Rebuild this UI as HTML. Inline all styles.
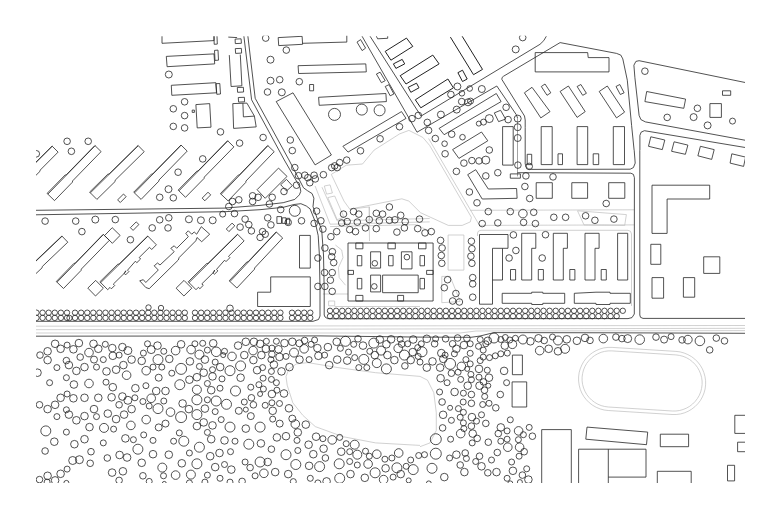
<!DOCTYPE html><html><head><meta charset="utf-8"><title>Site plan</title>
<style>html,body{margin:0;padding:0;background:#fff}svg{display:block}</style></head><body>
<svg width="780" height="518" viewBox="0 0 780 518">
<rect width="780" height="518" fill="#fff"/>
<defs><clipPath id="cp"><rect x="36.0" y="35.8" width="709.0" height="447.2"/></clipPath></defs>
<g clip-path="url(#cp)">
<g fill="none" stroke="#bdbdbd" stroke-width="0.70" stroke-linejoin="miter">
<path d="M331.3 174.4 L346.3 165.2 L362.5 164.0 L374.1 150.1 L399.6 133.9 L408.9 130.4 L422.8 137.4 L429.7 145.5 L471.4 217.3 L470.3 221.9 L462.2 225.4 L448.3 225.4 L420.5 212.7 L408.9 201.1 L401.9 198.8 L349.8 209.2 L344.0 201.1 Z M428.6 138.5 L479.5 225.4 M315.1 186.0 L330.1 224.2 L429.7 221.9 M322.0 187.2 L337.1 220.8 L429.7 218.5 M324.3 186.0 L330.1 184.9 L332.4 193.0 L326.6 194.1 Z M327.8 197.6 L334.7 196.0 L344.0 217.3 L337.1 219.6 Z M349.8 209.2 L369.5 206.9 L369.5 219.6 M330.1 226.6 L415.8 224.7 L429.7 231.2 M369.0 207.0 L369.5 241.0 M470.2 210.3 L634.1 209.8 M479.0 225.4 L634.1 224.9 M577.5 210.8 L626.4 214.6 L624.7 225.4 L584.0 224.9 Z M335.4 245.0 L341.7 250.0 L343.0 257.6 L338.4 267.6 L339.2 277.6 L345.5 285.2 M322.9 294.0 L348.0 294.0 M328.6 301.0 L334.7 301.0 L334.7 305.8 L328.6 305.8 Z M334.7 306.5 L420.0 306.5 M448.1 235.0 L463.9 235.0 L463.9 270.1 L448.1 270.1 Z M441.8 276.4 L450.1 276.4 L460.2 301.5 L441.8 302.7 Z M477.5 236.0 L477.5 233.0 L478.5 231.0 L481.0 230.3 L628.0 230.3 L630.5 231.3 L631.5 234.0 L631.5 306.0 M35.0 326.2 L746.0 325.5"/>
<path d="M35.0 329.7 L746.0 328.3 M35.0 333.0 L460.0 333.0 L476.0 331.0 L746.0 330.6 M420.0 376.4 L375.6 372.7 L337.9 367.6 L307.8 362.6 L296.5 363.9 L289.0 368.9 L286.0 376.4 L287.2 385.2 L292.8 402.8 L302.8 415.3 L315.3 426.6 L343.0 436.7 L375.6 442.9 L420.0 445.4 M420.0 376.4 L427.5 380.2 L433.8 392.7 L436.3 412.8 L436.3 430.4 L430.0 442.9 L420.0 446.7 M676.0 351.4 L680.1 351.9 L684.1 353.0 L687.9 354.6 L691.5 356.6 L694.8 359.1 L697.7 362.0 L700.3 365.3 L702.4 368.9 L703.9 372.7 L705.0 376.7 L705.6 380.8 L705.6 384.9 L705.1 389.0 L704.0 393.0 L702.4 396.9 L700.4 400.5 L697.9 403.7 L694.9 406.7 L691.7 409.2 L688.1 411.3 L684.3 412.9 L680.3 414.0 L676.2 414.5 L672.0 414.5 L608.2 410.5 L604.1 410.0 L600.1 408.9 L596.2 407.3 L592.7 405.3 L589.4 402.8 L586.4 399.8 L583.9 396.6 L581.8 393.0 L580.2 389.2 L579.2 385.2 L578.6 381.1 L578.6 377.0 L579.1 372.8 L580.2 368.9 L581.8 365.0 L583.8 361.4 L586.3 358.1 L589.2 355.2 L592.5 352.7 L596.1 350.6 L599.9 349.0 L603.9 347.9 L608.0 347.4 L612.1 347.4 Z M675.8 354.9 L679.4 355.4 L683.0 356.3 L686.4 357.7 L689.6 359.5 L692.5 361.8 L695.1 364.4 L697.4 367.3 L699.2 370.5 L700.6 373.9 L701.6 377.4 L702.1 381.0 L702.1 384.7 L701.6 388.4 L700.7 391.9 L699.3 395.3 L697.4 398.5 L695.2 401.4 L692.6 404.0 L689.7 406.3 L686.5 408.1 L683.1 409.5 L679.6 410.5 L675.9 411.0 L672.3 411.0 L608.4 407.0 L604.7 406.5 L601.2 405.6 L597.8 404.2 L594.6 402.3 L591.7 400.1 L589.1 397.5 L586.8 394.6 L585.0 391.4 L583.6 388.0 L582.6 384.5 L582.1 380.8 L582.1 377.2 L582.6 373.5 L583.5 370.0 L584.9 366.6 L586.7 363.4 L589.0 360.5 L591.6 357.9 L594.5 355.6 L597.7 353.8 L601.1 352.3 L604.6 351.4 L608.2 350.9 L611.9 350.9 Z"/>
</g>
<g fill="none" stroke="#8c8c8c" stroke-width="0.80" stroke-linejoin="miter">
<path d="M517.5 118.0 L517.5 176.4"/>
</g>
<g fill="none" stroke="#262626" stroke-width="0.80" stroke-linejoin="miter">
<path d="M162.0 36.3 L162.0 43.3 L214.0 40.6 L214.0 36.3 M214.0 36.3 L214.2 44.3 L217.3 44.1 L217.0 36.3 M166.3 56.4 L214.0 53.9 L214.7 63.9 L167.1 66.7 Z M214.5 50.4 L218.0 50.1 L218.5 60.2 L215.0 60.4 Z M171.3 85.3 L215.8 82.7 L216.5 92.8 L171.8 95.3 Z M216.0 83.7 L219.8 83.5 L220.5 94.0 L216.8 94.3 Z M192.2 110.1 L194.4 110.1 L194.4 112.4 L192.2 112.4 Z M195.9 104.6 L209.7 103.6 L211.0 127.2 L197.2 127.9 Z M228.3 37.1 L237.1 37.6 M235.1 39.1 L241.1 38.8 L241.4 43.3 L235.3 43.6 Z M235.3 48.6 L241.4 48.4 L241.6 53.1 L235.6 53.4 Z M229.3 55.1 L231.1 86.5 L241.9 85.8 L240.3 54.6 M237.3 87.5 L243.4 87.3 L243.6 92.0 L237.6 92.3 Z M238.3 97.5 L244.4 97.3 L244.6 101.8 L238.6 102.1 Z M232.8 103.6 L246.9 103.1 L254.4 116.1 L256.2 126.9 L233.6 128.4 Z M242.9 103.3 L243.4 116.9 L254.4 116.1 M278.2 37.6 L302.1 36.3 L302.6 44.3 L278.7 45.6 Z M302.6 43.3 L345.0 42.1 L346.8 42.1 L346.8 35.1 M309.6 84.5 L313.6 84.5 L313.6 90.8 L309.6 90.8 Z M276.2 101.6 L293.0 92.8 L331.4 155.0 L315.1 164.9 Z"/>
<path d="M357.0 42.1 L360.6 39.6 L365.6 48.1 L362.1 50.6 Z M298.1 65.7 L365.8 63.9 L366.3 71.9 L298.6 73.5 Z M318.6 97.3 L385.9 93.5 L386.4 101.6 L319.2 105.3 Z M376.4 74.0 L380.1 72.2 L385.2 80.7 L381.4 82.7 Z M385.2 86.5 L388.9 84.7 L393.9 94.0 L390.2 95.8 Z M362.1 36.3 L417.0 132.2 M370.1 36.3 L421.0 116.1 M421.0 116.1 L540.0 44.3 M417.0 132.2 L496.8 86.0 M496.8 86.0 L516.4 114.8 L517.5 118.0 M376.4 36.3 L377.6 38.8 L387.7 38.3 L387.7 36.3 M439.1 128.4 L496.3 93.5 L501.1 101.6 L444.1 134.7 Z M342.9 146.3 L401.5 111.6 L406.0 118.4 L348.0 152.1 Z M494.3 112.9 L500.6 110.3 L505.6 119.1 L498.6 121.6 Z M540.0 44.3 L543.8 40.6 L546.3 36.3 M525.2 127.5 L525.2 120.0 L524.5 116.0 L501.9 79.5 L502.0 77.6 L503.6 76.2 L560.1 42.6 M560.1 42.6 L616.5 53.4 L620.8 55.1 L622.8 58.9 L627.3 80.2 L631.6 125.4 L634.1 150.0 M535.2 52.6 L587.7 52.6 L588.2 57.6 L609.0 57.6 L609.0 71.9 L535.2 71.9 Z M541.3 86.5 L545.0 84.0 L550.8 92.8 L547.0 95.3 Z M577.1 86.5 L580.9 84.5 L586.4 93.3 L582.7 95.3 Z"/>
<path d="M616.0 86.5 L619.8 84.5 L624.1 92.8 L620.3 94.5 Z M524.4 92.8 L532.0 87.3 L550.0 111.6 L540.8 117.9 Z M560.1 91.5 L568.4 86.0 L585.2 111.6 L577.1 117.4 Z M599.2 91.5 L607.3 86.0 L624.6 112.1 L616.5 117.9 Z M801.0 94.0 L639.1 60.7 L635.9 61.4 L633.9 65.2 L634.9 77.7 L639.1 115.4 L640.9 119.6 L645.4 121.9 L801.0 150.5 M639.9 150.0 L639.9 135.4 L641.1 132.2 L644.4 130.7 L801.0 156.8 M646.7 91.5 L685.6 99.1 L683.8 108.3 L644.9 101.6 Z M709.9 103.6 L721.4 103.6 L721.4 117.4 L709.9 117.4 Z M722.5 90.8 L730.7 90.8 L730.7 95.3 L722.5 95.3 Z M21.4 175.6 L32.9 164.2 L34.1 164.0 L52.1 146.1 L58.1 152.1 L40.2 170.1 L40.0 171.3 L28.5 182.7 Z M22.1 176.3 L52.3 146.2 M47.1 193.4 L65.1 175.0 L66.3 174.8 L94.9 145.5 L101.1 151.6 L72.6 180.9 L72.4 182.2 L54.5 200.6 Z M47.9 194.1 L95.1 145.7 M89.6 192.1 L107.8 174.2 L109.1 174.0 L138.1 145.5 L144.2 151.7 L115.2 180.2 L115.1 181.5 L96.9 199.4 Z M90.4 192.8 L138.3 145.6 M133.7 192.2 L151.5 174.0 L152.7 173.9 L181.0 145.0 L187.2 151.1 L159.0 180.0 L158.8 181.2 L141.1 199.4 Z M134.5 192.9 L181.2 145.2 M178.2 190.1 L196.8 171.2 L198.0 171.0 L227.6 140.7 L233.9 146.9 L204.3 177.1 L204.1 178.4 L185.5 197.3 Z M178.9 190.9 L227.8 140.9 M35.5 210.3 L225.0 208.1"/>
<path d="M35.5 214.8 L225.0 211.7 M117.6 199.9 L123.5 194.0 L126.1 196.7 L120.3 202.5 Z M202.2 198.1 L208.0 192.2 L210.7 194.9 L204.8 200.8 Z M130.4 227.7 L136.2 221.9 L138.9 224.5 L133.1 230.4 Z M19.0 275.8 L35.1 260.5 L36.4 260.3 L61.9 236.0 L67.8 242.2 L42.3 266.5 L42.1 267.8 L25.9 283.1 Z M19.7 276.6 L62.1 236.2 M56.3 281.5 L73.9 263.4 L75.2 263.2 L103.2 234.3 L109.4 240.3 L81.3 269.1 L81.1 270.4 L63.5 288.5 Z M57.0 282.2 L103.4 234.5 M104.5 235.6 L112.2 227.7 L120.1 235.4 L112.4 243.3 Z M99.9 281.8 L117.8 264.2 L119.1 264.1 L147.7 236.0 L154.3 242.7 L154.3 242.7 L156.4 244.8 L151.7 249.5 L149.5 247.3 L139.2 257.5 L140.6 259.0 L136.8 262.7 L135.4 261.2 L127.5 270.2 L128.9 271.6 L125.6 274.9 L124.2 273.4 L125.7 270.8 L125.6 272.0 L113.3 284.1 L114.7 285.5 L111.4 288.8 L110.0 287.4 L107.7 289.7 Z M100.7 282.6 L147.9 236.2 M95.7 280.4 L87.8 288.1 L95.5 296.0 L103.4 288.2 Z M139.7 280.8 L143.3 279.7 L145.8 282.5 L158.3 270.0 L154.2 265.8 L157.5 263.0 L160.0 265.0 L174.2 251.7 L170.8 248.3 L174.2 245.8 L176.7 248.3 L188.3 236.7 L185.8 233.3 L188.3 230.8 L191.7 234.2 L194.2 232.0 L196.7 234.2 L201.3 226.7 L209.7 234.2 L201.7 241.7 L197.0 237.5 L195.8 240.8 L179.2 257.5 L178.3 260.0 L149.2 288.7 L145.8 287.5 Z M188.2 281.8 L206.7 263.5 L208.0 263.4 L237.5 234.2 L244.1 240.9 L228.5 256.3 L229.9 257.7 L226.0 261.6 L224.6 260.2 L216.5 269.4 L217.9 270.9 L214.5 274.2 L213.0 272.8 L214.6 270.1 L214.5 271.4 L201.8 283.9 L203.3 285.3 L199.9 288.7 L198.4 287.3 L196.0 289.7 Z M189.0 282.6 L237.7 234.4 M184.0 280.4 L176.1 288.2 L183.9 296.0 L191.8 288.2 Z M243.9 36.3 L251.6 99.8 L284.3 160.0 L300.0 187.2 L300.8 191.3 L299.4 194.8 L294.8 199.4 L283.2 202.7 L260.0 205.4 L225.0 208.0 M247.9 36.3 L255.2 98.3 L289.0 160.0 L303.5 187.8 L307.5 190.7 L312.1 193.6 L313.9 198.2 L313.0 206.6 L317.1 218.2 L321.7 229.8 L323.5 255.0 L324.2 290.0 L324.2 315.0 L325.0 317.0 L327.5 318.6 L332.0 318.8 L628.0 318.6 L632.0 317.6 L634.3 314.0 M225.0 211.7 L260.0 209.7 L283.2 207.3 L294.0 204.5 L300.9 203.7 L306.3 206.0 L310.1 208.9 L314.8 220.5 L318.2 235.6 L319.4 255.0 L320.0 290.0 L320.0 316.0 L318.5 319.5 L313.0 321.3 L35.0 321.3 M220.4 193.6 L238.2 175.1 L239.4 174.9 L267.7 145.5 L274.2 151.7 L245.9 181.1 L245.8 182.4 L228.1 200.9 Z"/>
<path d="M221.2 194.3 L267.9 145.7 M257.1 189.7 L278.5 168.1 L287.0 176.4 L265.2 198.3 Z M280.7 184.7 L286.5 179.4 L292.3 185.7 L286.5 191.0 Z M276.9 216.6 L281.5 216.6 L281.5 223.4 L276.9 223.4 Z M282.2 217.8 L286.0 217.8 L286.0 223.4 L282.2 223.4 Z M286.5 218.3 L289.7 218.3 L289.7 224.1 L286.5 224.1 Z M226.3 229.0 L232.1 223.1 L234.8 225.8 L228.9 231.6 Z M452.6 149.6 L481.5 132.0 L487.8 140.8 L458.9 158.4 Z M467.7 174.7 L475.7 169.7 L488.3 189.0 L516.6 188.5 L517.1 198.3 L482.2 199.0 Z M502.6 126.6 L513.2 126.6 L513.2 165.1 L502.6 165.1 Z M541.2 126.6 L552.2 126.6 L552.2 164.6 L541.2 164.6 Z M577.1 126.6 L587.7 126.6 L587.7 164.6 L577.1 164.6 Z M613.3 126.6 L624.5 126.6 L624.5 164.6 L613.3 164.6 Z M527.2 154.3 L531.7 154.3 L531.7 164.6 L527.2 164.6 Z M558.0 153.8 L562.5 153.8 L562.5 164.6 L558.0 164.6 Z M593.2 153.8 L598.7 153.8 L598.7 164.6 L593.2 164.6 Z M517.4 172.7 L630.9 173.2 L633.4 174.4 L634.4 177.7 L634.3 314.0 M525.2 127.5 L525.2 163.9 L526.2 167.1 L528.4 168.9 L531.7 169.4 L630.2 169.2 L633.4 167.6 L635.2 163.1 L634.2 150.1 M510.3 173.9 L520.4 173.9 L520.4 178.2 L510.3 178.2 Z M536.2 182.7 L552.3 182.7 L552.3 198.3 L536.2 198.3 Z"/>
<path d="M571.8 182.7 L587.6 182.7 L587.6 198.3 L571.8 198.3 Z M608.7 182.7 L624.8 182.7 L624.8 198.3 L608.7 198.3 Z M639.8 150.1 L639.8 315.0 L640.5 317.3 L643.0 318.4 L746.0 318.4 M650.8 136.8 L664.8 140.0 L662.3 149.6 L648.5 146.3 Z M674.1 141.8 L687.9 145.1 L685.4 154.3 L671.6 151.3 Z M700.4 146.3 L714.2 149.6 L711.7 159.4 L697.9 155.8 Z M731.8 153.8 L745.6 157.1 L743.6 166.4 L730.1 163.1 Z M652.0 185.2 L709.7 185.2 L709.7 199.0 L667.1 199.0 L667.1 233.4 L652.0 233.4 Z M299.5 235.4 L310.3 235.4 L310.3 268.1 L299.5 268.1 Z M270.7 276.9 L310.3 276.9 L310.3 306.5 L257.6 306.5 L257.6 292.2 L270.7 292.2 Z M229.2 280.8 L246.8 262.0 L248.1 261.8 L276.2 231.9 L282.7 238.0 L254.6 268.0 L254.5 269.2 L236.9 288.0 Z M230.0 281.5 L276.4 232.1 M348.0 243.0 L433.1 243.0 L433.1 301.0 L348.0 301.0 Z M355.8 243.0 L362.9 243.0 L362.9 248.8 L355.8 248.8 Z M387.9 243.0 L395.3 243.0 L395.3 248.8 L387.9 248.8 Z M418.5 243.0 L426.0 243.0 L426.0 248.8 L418.5 248.8 Z M355.8 295.4 L362.9 295.4 L362.9 301.0 L355.8 301.0 Z M397.6 295.4 L403.6 295.4 L403.6 301.0 L397.6 301.0 Z M348.0 270.4 L353.5 270.4 L353.5 274.4 L348.0 274.4 Z M426.6 270.4 L433.1 270.4 L433.1 274.4 L426.6 274.4 Z"/>
<path d="M357.3 255.6 L361.8 255.6 L361.8 265.8 L357.3 265.8 Z M370.6 251.8 L380.6 251.8 L380.6 268.1 L370.6 268.1 Z M388.6 255.6 L393.1 255.6 L393.1 265.8 L388.6 265.8 Z M401.4 251.8 L412.0 251.8 L412.0 268.9 L401.4 268.9 Z M357.3 278.4 L361.8 278.4 L361.8 288.9 L357.3 288.9 Z M370.6 275.1 L380.6 275.1 L380.6 291.9 L370.6 291.9 Z M382.6 275.1 L418.2 275.1 L418.2 292.7 L382.6 292.7 Z M420.0 255.6 L424.5 255.6 L424.5 265.8 L420.0 265.8 Z M420.0 278.4 L424.5 278.4 L424.5 288.9 L420.0 288.9 Z M479.5 234.5 L508.0 234.5 L508.0 248.3 L502.5 248.3 L502.5 280.0 L492.5 280.0 L492.5 304.2 L479.5 304.2 Z M492.5 280.0 L492.5 248.3 L502.5 248.3 M521.7 233.3 L535.8 233.3 L535.8 248.3 L531.7 248.3 L531.7 280.0 L521.7 280.0 Z M553.3 233.3 L567.4 233.3 L567.4 248.3 L563.3 248.3 L563.3 280.0 L553.3 280.0 Z M585.0 233.3 L599.1 233.3 L599.1 248.3 L595.0 248.3 L595.0 280.0 L585.0 280.0 Z M617.6 233.3 L627.7 233.3 L627.7 280.0 L617.6 280.0 Z M510.5 269.5 L515.6 269.5 L515.6 280.0 L510.5 280.0 Z M538.3 269.5 L543.4 269.5 L543.4 280.0 L538.3 280.0 Z M569.8 269.5 L574.9 269.5 L574.9 280.0 L569.8 280.0 Z M601.2 269.5 L606.3 269.5 L606.3 280.0 L601.2 280.0 Z M502.2 293.3 L531.7 293.3 L531.7 292.2 L542.8 292.2 L542.8 293.3 L564.7 293.3 L564.7 303.3 L542.8 303.3 L542.8 304.5 L531.7 304.5 L531.7 303.3 L502.2 303.3 Z"/>
<path d="M574.3 293.3 L596.0 292.2 L610.0 292.2 L610.0 293.3 L630.3 293.3 L630.3 303.3 L610.0 303.3 L610.0 304.5 L596.0 304.5 L596.0 303.3 L574.3 303.3 Z M650.8 244.3 L660.8 244.3 L660.8 264.3 L650.8 264.3 Z M703.7 256.8 L719.8 256.8 L719.8 273.4 L703.7 273.4 Z M652.0 277.6 L663.6 277.6 L663.6 298.2 L652.0 298.2 Z M683.4 277.6 L694.7 277.6 L694.7 297.2 L683.4 297.2 Z M35.0 336.2 L320.0 335.9 L420.0 337.1 L471.0 337.3 L480.0 336.0 L494.0 332.6 L615.0 332.8 L746.0 333.3 M512.4 355.1 L522.4 355.1 L522.4 374.7 L512.4 374.7 Z M512.1 381.9 L526.7 381.9 L526.7 407.0 L512.1 407.0 Z M541.7 429.6 L571.3 429.6 L571.3 505.7 L541.7 505.7 Z M587.0 427.1 L647.7 432.1 L646.5 444.7 L585.8 439.2 Z M660.3 434.2 L688.6 434.2 L688.6 446.7 L660.3 446.7 Z M578.6 505.7 L578.6 449.2 L646.0 449.2 L646.0 477.1 L608.3 477.1 M608.3 449.2 L608.3 505.7 M760.7 415.3 L734.8 415.3 L734.8 433.4 L760.7 433.4 M760.7 442.2 L737.6 442.2 L737.6 451.7 L760.7 451.7 M657.3 563.7 L657.3 471.3 L691.2 471.3 L691.2 563.7 M727.5 465.3 L734.6 465.3 L734.6 480.9 L727.5 480.9 Z"/>
<circle cx="168.8" cy="74.5" r="3.5"/>
<circle cx="184.6" cy="101.8" r="3.3"/>
<circle cx="173.3" cy="108.8" r="3.3"/>
<circle cx="184.6" cy="115.6" r="3.3"/>
<circle cx="173.3" cy="126.4" r="3.3"/>
<circle cx="184.6" cy="127.9" r="3.3"/>
<circle cx="220.5" cy="131.9" r="3.3"/>
<circle cx="265.7" cy="38.1" r="3.3"/>
<circle cx="286.3" cy="50.1" r="3.3"/>
<circle cx="270.5" cy="59.7" r="3.5"/>
<circle cx="270.5" cy="80.7" r="3.5"/>
<circle cx="279.7" cy="79.7" r="3.3"/>
<circle cx="267.5" cy="92.0" r="3.3"/>
<circle cx="281.8" cy="92.3" r="3.5"/>
<circle cx="299.3" cy="81.7" r="3.3"/>
<circle cx="334.5" cy="114.4" r="6.0"/>
<circle cx="361.8" cy="109.6" r="5.5"/>
<circle cx="379.6" cy="110.3" r="5.5"/>
<circle cx="457.4" cy="86.5" r="3.5"/>
<circle cx="450.9" cy="94.5" r="3.3"/>
<circle cx="461.9" cy="93.3" r="2.8"/>
<circle cx="469.7" cy="88.5" r="2.8"/>
<circle cx="481.8" cy="89.0" r="3.5"/>
<circle cx="461.7" cy="101.6" r="3.3"/>
<circle cx="468.0" cy="102.3" r="3.5"/>
<circle cx="470.5" cy="101.1" r="3.0"/>
<circle cx="456.7" cy="109.6" r="3.5"/>
<circle cx="440.9" cy="114.6" r="3.5"/>
<circle cx="418.3" cy="115.4" r="3.3"/>
<circle cx="412.0" cy="118.6" r="3.3"/>
<circle cx="427.3" cy="122.4" r="3.3"/>
<circle cx="428.6" cy="130.4" r="3.3"/>
<circle cx="435.3" cy="138.5" r="3.3"/>
<circle cx="444.6" cy="143.7" r="2.8"/>
<circle cx="451.7" cy="134.2" r="3.3"/>
<circle cx="462.5" cy="137.2" r="2.8"/>
<circle cx="399.5" cy="126.7" r="3.3"/>
<circle cx="515.7" cy="49.4" r="3.5"/>
<circle cx="522.7" cy="37.6" r="3.3"/>
<circle cx="506.1" cy="107.3" r="3.3"/>
<circle cx="489.3" cy="118.6" r="4.0"/>
<circle cx="483.5" cy="122.1" r="3.0"/>
<circle cx="478.8" cy="123.6" r="2.5"/>
<circle cx="508.1" cy="119.6" r="3.3"/>
<circle cx="517.7" cy="118.6" r="3.5"/>
<circle cx="517.7" cy="127.2" r="3.5"/>
<circle cx="517.7" cy="138.0" r="3.5"/>
<circle cx="489.3" cy="150.0" r="3.3"/>
<circle cx="644.9" cy="71.2" r="3.3"/>
<circle cx="697.4" cy="108.3" r="3.3"/>
<circle cx="667.2" cy="117.4" r="3.3"/>
<circle cx="693.6" cy="117.1" r="3.5"/>
<circle cx="707.6" cy="125.4" r="3.5"/>
<circle cx="732.5" cy="121.1" r="3.0"/>
<circle cx="67.1" cy="141.3" r="3.3"/>
<circle cx="88.2" cy="141.3" r="3.3"/>
<circle cx="71.4" cy="151.3" r="3.3"/>
<circle cx="36.3" cy="153.8" r="3.3"/>
<circle cx="202.7" cy="158.9" r="3.3"/>
<circle cx="178.1" cy="172.2" r="3.3"/>
<circle cx="168.5" cy="189.2" r="3.5"/>
<circle cx="159.7" cy="197.3" r="3.3"/>
<circle cx="173.3" cy="197.8" r="3.3"/>
<circle cx="45.1" cy="221.1" r="3.3"/>
<circle cx="75.7" cy="221.1" r="3.3"/>
<circle cx="95.3" cy="219.6" r="3.5"/>
<circle cx="115.3" cy="219.6" r="3.3"/>
<circle cx="81.9" cy="231.6" r="3.3"/>
<circle cx="130.4" cy="239.7" r="3.3"/>
<circle cx="152.2" cy="227.9" r="3.3"/>
<circle cx="159.7" cy="219.8" r="3.3"/>
<circle cx="168.8" cy="217.8" r="3.3"/>
<circle cx="168.0" cy="227.9" r="3.3"/>
<circle cx="188.9" cy="219.3" r="3.5"/>
<circle cx="200.9" cy="220.3" r="3.5"/>
<circle cx="212.7" cy="220.3" r="3.5"/>
<circle cx="222.7" cy="214.1" r="3.0"/>
<circle cx="239.6" cy="143.1" r="3.3"/>
<circle cx="263.1" cy="137.5" r="3.3"/>
<circle cx="290.3" cy="140.0" r="3.3"/>
<circle cx="292.3" cy="150.6" r="3.3"/>
<circle cx="294.8" cy="167.6" r="3.3"/>
<circle cx="298.5" cy="175.7" r="3.3"/>
<circle cx="304.8" cy="175.2" r="3.3"/>
<circle cx="307.8" cy="177.7" r="3.3"/>
<circle cx="309.8" cy="182.7" r="3.3"/>
<circle cx="314.1" cy="175.2" r="3.3"/>
<circle cx="315.3" cy="178.9" r="3.3"/>
<circle cx="323.4" cy="174.7" r="3.3"/>
<circle cx="296.5" cy="185.2" r="3.3"/>
<circle cx="284.0" cy="191.5" r="3.3"/>
<circle cx="272.2" cy="197.3" r="3.3"/>
<circle cx="269.4" cy="204.0" r="3.3"/>
<circle cx="252.6" cy="195.8" r="3.3"/>
<circle cx="258.1" cy="197.3" r="3.3"/>
<circle cx="252.6" cy="201.5" r="3.3"/>
<circle cx="238.8" cy="199.8" r="3.3"/>
<circle cx="232.5" cy="201.5" r="3.3"/>
<circle cx="228.8" cy="206.5" r="3.3"/>
<circle cx="280.7" cy="209.6" r="3.3"/>
<circle cx="294.8" cy="210.8" r="5.5"/>
<circle cx="301.5" cy="220.8" r="3.3"/>
<circle cx="267.7" cy="217.8" r="3.3"/>
<circle cx="270.9" cy="224.9" r="3.3"/>
<circle cx="288.2" cy="222.4" r="3.3"/>
<circle cx="245.1" cy="219.1" r="3.3"/>
<circle cx="248.8" cy="224.6" r="3.3"/>
<circle cx="240.1" cy="227.1" r="3.3"/>
<circle cx="251.4" cy="230.9" r="3.3"/>
<circle cx="262.6" cy="231.6" r="3.3"/>
<circle cx="265.2" cy="234.2" r="3.3"/>
<circle cx="260.1" cy="237.4" r="3.3"/>
<circle cx="234.5" cy="213.6" r="3.3"/>
<circle cx="316.6" cy="211.1" r="3.3"/>
<circle cx="314.1" cy="223.4" r="3.3"/>
<circle cx="320.9" cy="220.8" r="3.3"/>
<circle cx="322.9" cy="229.1" r="3.3"/>
<circle cx="324.9" cy="248.0" r="3.3"/>
<circle cx="330.9" cy="236.7" r="3.3"/>
<circle cx="332.4" cy="251.7" r="3.3"/>
<circle cx="331.7" cy="256.7" r="3.3"/>
<circle cx="317.9" cy="258.0" r="3.3"/>
<circle cx="336.7" cy="231.6" r="3.3"/>
<circle cx="343.5" cy="214.1" r="3.3"/>
<circle cx="341.7" cy="222.9" r="3.3"/>
<circle cx="347.2" cy="221.6" r="3.3"/>
<circle cx="353.5" cy="211.6" r="3.3"/>
<circle cx="358.8" cy="214.1" r="3.3"/>
<circle cx="357.3" cy="222.1" r="3.3"/>
<circle cx="349.7" cy="229.6" r="3.3"/>
<circle cx="355.5" cy="231.6" r="3.3"/>
<circle cx="365.5" cy="227.9" r="3.3"/>
<circle cx="369.3" cy="219.6" r="3.3"/>
<circle cx="376.3" cy="213.3" r="3.3"/>
<circle cx="382.6" cy="214.1" r="3.3"/>
<circle cx="389.4" cy="207.0" r="3.3"/>
<circle cx="379.3" cy="220.8" r="3.3"/>
<circle cx="376.3" cy="228.6" r="3.3"/>
<circle cx="389.4" cy="220.3" r="3.3"/>
<circle cx="394.9" cy="219.8" r="3.3"/>
<circle cx="400.7" cy="215.3" r="3.3"/>
<circle cx="405.2" cy="221.6" r="3.3"/>
<circle cx="404.4" cy="227.9" r="3.3"/>
<circle cx="396.9" cy="232.1" r="3.3"/>
<circle cx="417.7" cy="228.6" r="3.3"/>
<circle cx="419.5" cy="219.1" r="3.3"/>
<circle cx="331.7" cy="167.6" r="3.3"/>
<circle cx="334.7" cy="165.9" r="3.3"/>
<circle cx="337.2" cy="167.6" r="3.3"/>
<circle cx="339.7" cy="162.6" r="3.3"/>
<circle cx="346.7" cy="160.1" r="3.3"/>
<circle cx="360.5" cy="150.8" r="3.3"/>
<circle cx="380.1" cy="138.8" r="3.3"/>
<circle cx="445.1" cy="153.8" r="3.3"/>
<circle cx="456.4" cy="171.4" r="3.3"/>
<circle cx="463.9" cy="163.1" r="3.3"/>
<circle cx="471.9" cy="160.6" r="3.3"/>
<circle cx="479.0" cy="160.9" r="3.3"/>
<circle cx="485.8" cy="160.1" r="4.0"/>
<circle cx="485.8" cy="175.9" r="3.3"/>
<circle cx="497.8" cy="172.7" r="3.3"/>
<circle cx="469.4" cy="192.0" r="3.3"/>
<circle cx="477.0" cy="202.8" r="3.3"/>
<circle cx="488.3" cy="211.6" r="3.3"/>
<circle cx="482.2" cy="223.6" r="3.3"/>
<circle cx="497.8" cy="222.9" r="3.3"/>
<circle cx="510.3" cy="211.6" r="3.3"/>
<circle cx="522.9" cy="213.6" r="4.3"/>
<circle cx="523.6" cy="222.4" r="3.3"/>
<circle cx="533.7" cy="212.3" r="3.3"/>
<circle cx="535.4" cy="223.6" r="3.3"/>
<circle cx="524.9" cy="186.5" r="3.3"/>
<circle cx="529.7" cy="198.5" r="3.3"/>
<circle cx="525.9" cy="175.9" r="3.3"/>
<circle cx="553.0" cy="176.9" r="3.3"/>
<circle cx="517.9" cy="165.1" r="3.3"/>
<circle cx="529.2" cy="166.4" r="3.3"/>
<circle cx="553.8" cy="217.3" r="3.3"/>
<circle cx="565.6" cy="217.3" r="3.3"/>
<circle cx="585.6" cy="215.8" r="3.3"/>
<circle cx="594.9" cy="220.3" r="3.3"/>
<circle cx="606.2" cy="203.5" r="3.3"/>
<circle cx="513.4" cy="234.9" r="3.3"/>
<circle cx="545.5" cy="234.7" r="3.3"/>
<circle cx="515.9" cy="250.5" r="3.3"/>
<circle cx="509.1" cy="258.0" r="3.3"/>
<circle cx="542.2" cy="258.0" r="3.3"/>
<circle cx="425.0" cy="232.9" r="3.3"/>
<circle cx="431.3" cy="231.6" r="3.3"/>
<circle cx="440.6" cy="240.4" r="3.3"/>
<circle cx="442.1" cy="248.0" r="3.3"/>
<circle cx="441.3" cy="255.5" r="3.3"/>
<circle cx="471.4" cy="241.2" r="3.3"/>
<circle cx="471.9" cy="248.7" r="3.3"/>
<circle cx="470.9" cy="256.2" r="3.3"/>
<circle cx="613.9" cy="219.1" r="3.3"/>
<circle cx="374.8" cy="263.3" r="2.8"/>
<circle cx="406.9" cy="257.1" r="2.8"/>
<circle cx="374.3" cy="286.4" r="2.8"/>
<circle cx="333.7" cy="262.6" r="3.3"/>
<circle cx="324.6" cy="272.6" r="3.3"/>
<circle cx="332.2" cy="272.6" r="3.3"/>
<circle cx="330.4" cy="280.2" r="3.3"/>
<circle cx="317.9" cy="286.4" r="3.3"/>
<circle cx="324.9" cy="286.4" r="3.3"/>
<circle cx="332.2" cy="291.4" r="3.3"/>
<circle cx="230.0" cy="308.3" r="3.3"/>
<circle cx="441.8" cy="263.3" r="3.3"/>
<circle cx="471.9" cy="263.3" r="3.3"/>
<circle cx="472.7" cy="277.6" r="3.3"/>
<circle cx="472.7" cy="283.9" r="3.3"/>
<circle cx="472.7" cy="297.2" r="3.3"/>
<circle cx="447.6" cy="279.7" r="3.3"/>
<circle cx="444.3" cy="287.7" r="3.3"/>
<circle cx="455.9" cy="293.5" r="3.3"/>
<circle cx="452.6" cy="301.0" r="3.3"/>
<circle cx="459.4" cy="302.0" r="3.3"/>
<circle cx="590.0" cy="340.4" r="3.3"/>
<circle cx="603.3" cy="338.6" r="4.3"/>
<circle cx="615.9" cy="337.1" r="3.3"/>
<circle cx="621.9" cy="338.6" r="3.3"/>
<circle cx="627.7" cy="338.6" r="4.0"/>
<circle cx="639.7" cy="339.6" r="4.8"/>
<circle cx="656.0" cy="337.1" r="3.3"/>
<circle cx="664.1" cy="339.6" r="3.5"/>
<circle cx="671.1" cy="336.6" r="3.0"/>
<circle cx="682.1" cy="339.9" r="3.3"/>
<circle cx="687.9" cy="339.6" r="4.3"/>
<circle cx="699.9" cy="340.9" r="4.8"/>
<circle cx="716.3" cy="338.1" r="3.3"/>
<circle cx="724.5" cy="340.9" r="3.3"/>
<circle cx="709.7" cy="349.9" r="3.3"/>
<circle cx="585.0" cy="337.9" r="3.8"/>
<circle cx="36.5" cy="312.7" r="2.7"/>
<circle cx="36.5" cy="317.9" r="2.7"/>
<circle cx="42.6" cy="312.7" r="2.7"/>
<circle cx="42.6" cy="317.9" r="2.7"/>
<circle cx="48.7" cy="312.7" r="2.7"/>
<circle cx="48.7" cy="317.9" r="2.7"/>
<circle cx="54.8" cy="312.7" r="2.7"/>
<circle cx="54.8" cy="317.9" r="2.7"/>
<circle cx="60.9" cy="312.7" r="2.7"/>
<circle cx="60.9" cy="317.9" r="2.7"/>
<circle cx="67.0" cy="312.7" r="2.7"/>
<circle cx="67.0" cy="317.9" r="2.7"/>
<circle cx="75.0" cy="312.7" r="2.7"/>
<circle cx="75.0" cy="317.9" r="2.7"/>
<circle cx="81.1" cy="312.7" r="2.7"/>
<circle cx="81.1" cy="317.9" r="2.7"/>
<circle cx="87.2" cy="312.7" r="2.7"/>
<circle cx="87.2" cy="317.9" r="2.7"/>
<circle cx="93.3" cy="312.7" r="2.7"/>
<circle cx="93.3" cy="317.9" r="2.7"/>
<circle cx="99.4" cy="312.7" r="2.7"/>
<circle cx="99.4" cy="317.9" r="2.7"/>
<circle cx="105.5" cy="312.7" r="2.7"/>
<circle cx="105.5" cy="317.9" r="2.7"/>
<circle cx="111.6" cy="312.7" r="2.7"/>
<circle cx="111.6" cy="317.9" r="2.7"/>
<circle cx="117.7" cy="312.7" r="2.7"/>
<circle cx="117.7" cy="317.9" r="2.7"/>
<circle cx="123.8" cy="312.7" r="2.7"/>
<circle cx="123.8" cy="317.9" r="2.7"/>
<circle cx="129.9" cy="312.7" r="2.7"/>
<circle cx="129.9" cy="317.9" r="2.7"/>
<circle cx="136.0" cy="312.7" r="2.7"/>
<circle cx="136.0" cy="317.9" r="2.7"/>
<circle cx="142.1" cy="312.7" r="2.7"/>
<circle cx="142.1" cy="317.9" r="2.7"/>
<circle cx="148.2" cy="312.7" r="2.7"/>
<circle cx="148.2" cy="317.9" r="2.7"/>
<circle cx="154.3" cy="312.7" r="2.7"/>
<circle cx="154.3" cy="317.9" r="2.7"/>
<circle cx="160.4" cy="312.7" r="2.7"/>
<circle cx="160.4" cy="317.9" r="2.7"/>
<circle cx="166.5" cy="312.7" r="2.7"/>
<circle cx="166.5" cy="317.9" r="2.7"/>
<circle cx="172.6" cy="312.7" r="2.7"/>
<circle cx="172.6" cy="317.9" r="2.7"/>
<circle cx="178.7" cy="312.7" r="2.7"/>
<circle cx="178.7" cy="317.9" r="2.7"/>
<circle cx="184.8" cy="312.7" r="2.7"/>
<circle cx="184.8" cy="317.9" r="2.7"/>
<circle cx="195.0" cy="312.7" r="2.7"/>
<circle cx="195.0" cy="317.9" r="2.7"/>
<circle cx="201.1" cy="312.7" r="2.7"/>
<circle cx="201.1" cy="317.9" r="2.7"/>
<circle cx="207.2" cy="312.7" r="2.7"/>
<circle cx="207.2" cy="317.9" r="2.7"/>
<circle cx="213.3" cy="312.7" r="2.7"/>
<circle cx="213.3" cy="317.9" r="2.7"/>
<circle cx="219.4" cy="312.7" r="2.7"/>
<circle cx="219.4" cy="317.9" r="2.7"/>
<circle cx="225.5" cy="312.7" r="2.7"/>
<circle cx="225.5" cy="317.9" r="2.7"/>
<circle cx="231.6" cy="312.7" r="2.7"/>
<circle cx="231.6" cy="317.9" r="2.7"/>
<circle cx="237.7" cy="312.7" r="2.7"/>
<circle cx="237.7" cy="317.9" r="2.7"/>
<circle cx="243.8" cy="312.7" r="2.7"/>
<circle cx="243.8" cy="317.9" r="2.7"/>
<circle cx="249.9" cy="312.7" r="2.7"/>
<circle cx="249.9" cy="317.9" r="2.7"/>
<circle cx="256.0" cy="312.7" r="2.7"/>
<circle cx="256.0" cy="317.9" r="2.7"/>
<circle cx="262.1" cy="312.7" r="2.7"/>
<circle cx="262.1" cy="317.9" r="2.7"/>
<circle cx="268.2" cy="312.7" r="2.7"/>
<circle cx="268.2" cy="317.9" r="2.7"/>
<circle cx="274.3" cy="312.7" r="2.7"/>
<circle cx="274.3" cy="317.9" r="2.7"/>
<circle cx="280.4" cy="312.7" r="2.7"/>
<circle cx="280.4" cy="317.9" r="2.7"/>
<circle cx="292.0" cy="312.7" r="2.7"/>
<circle cx="292.0" cy="317.9" r="2.7"/>
<circle cx="298.1" cy="312.7" r="2.7"/>
<circle cx="298.1" cy="317.9" r="2.7"/>
<circle cx="304.2" cy="312.7" r="2.7"/>
<circle cx="304.2" cy="317.9" r="2.7"/>
<circle cx="310.3" cy="312.7" r="2.7"/>
<circle cx="310.3" cy="317.9" r="2.7"/>
<circle cx="330.0" cy="310.8" r="2.7"/>
<circle cx="330.0" cy="316.2" r="2.7"/>
<circle cx="336.1" cy="310.8" r="2.7"/>
<circle cx="336.1" cy="316.2" r="2.7"/>
<circle cx="342.2" cy="310.8" r="2.7"/>
<circle cx="342.2" cy="316.2" r="2.7"/>
<circle cx="348.3" cy="310.8" r="2.7"/>
<circle cx="348.3" cy="316.2" r="2.7"/>
<circle cx="354.4" cy="310.8" r="2.7"/>
<circle cx="354.4" cy="316.2" r="2.7"/>
<circle cx="360.5" cy="310.8" r="2.7"/>
<circle cx="360.5" cy="316.2" r="2.7"/>
<circle cx="366.6" cy="310.8" r="2.7"/>
<circle cx="366.6" cy="316.2" r="2.7"/>
<circle cx="372.7" cy="310.8" r="2.7"/>
<circle cx="372.7" cy="316.2" r="2.7"/>
<circle cx="378.8" cy="310.8" r="2.7"/>
<circle cx="378.8" cy="316.2" r="2.7"/>
<circle cx="384.9" cy="310.8" r="2.7"/>
<circle cx="384.9" cy="316.2" r="2.7"/>
<circle cx="391.0" cy="310.8" r="2.7"/>
<circle cx="391.0" cy="316.2" r="2.7"/>
<circle cx="397.1" cy="310.8" r="2.7"/>
<circle cx="397.1" cy="316.2" r="2.7"/>
<circle cx="403.2" cy="310.8" r="2.7"/>
<circle cx="403.2" cy="316.2" r="2.7"/>
<circle cx="409.3" cy="310.8" r="2.7"/>
<circle cx="409.3" cy="316.2" r="2.7"/>
<circle cx="415.4" cy="310.8" r="2.7"/>
<circle cx="415.4" cy="316.2" r="2.7"/>
<circle cx="421.5" cy="310.8" r="2.7"/>
<circle cx="421.5" cy="316.2" r="2.7"/>
<circle cx="427.6" cy="310.8" r="2.7"/>
<circle cx="427.6" cy="316.2" r="2.7"/>
<circle cx="433.7" cy="310.8" r="2.7"/>
<circle cx="433.7" cy="316.2" r="2.7"/>
<circle cx="439.8" cy="310.8" r="2.7"/>
<circle cx="439.8" cy="316.2" r="2.7"/>
<circle cx="445.9" cy="310.8" r="2.7"/>
<circle cx="445.9" cy="316.2" r="2.7"/>
<circle cx="452.0" cy="310.8" r="2.7"/>
<circle cx="452.0" cy="316.2" r="2.7"/>
<circle cx="458.1" cy="310.8" r="2.7"/>
<circle cx="458.1" cy="316.2" r="2.7"/>
<circle cx="464.2" cy="310.8" r="2.7"/>
<circle cx="464.2" cy="316.2" r="2.7"/>
<circle cx="470.3" cy="310.8" r="2.7"/>
<circle cx="470.3" cy="316.2" r="2.7"/>
<circle cx="476.4" cy="310.8" r="2.7"/>
<circle cx="476.4" cy="316.2" r="2.7"/>
<circle cx="482.5" cy="310.8" r="2.7"/>
<circle cx="482.5" cy="316.2" r="2.7"/>
<circle cx="488.6" cy="310.8" r="2.7"/>
<circle cx="488.6" cy="316.2" r="2.7"/>
<circle cx="494.7" cy="310.8" r="2.7"/>
<circle cx="494.7" cy="316.2" r="2.7"/>
<circle cx="500.8" cy="310.8" r="2.7"/>
<circle cx="500.8" cy="316.2" r="2.7"/>
<circle cx="506.9" cy="310.8" r="2.7"/>
<circle cx="506.9" cy="316.2" r="2.7"/>
<circle cx="513.0" cy="310.8" r="2.7"/>
<circle cx="513.0" cy="316.2" r="2.7"/>
<circle cx="519.1" cy="310.8" r="2.7"/>
<circle cx="519.1" cy="316.2" r="2.7"/>
<circle cx="525.2" cy="310.8" r="2.7"/>
<circle cx="525.2" cy="316.2" r="2.7"/>
<circle cx="531.3" cy="310.8" r="2.7"/>
<circle cx="531.3" cy="316.2" r="2.7"/>
<circle cx="537.4" cy="310.8" r="2.7"/>
<circle cx="537.4" cy="316.2" r="2.7"/>
<circle cx="543.5" cy="310.8" r="2.7"/>
<circle cx="543.5" cy="316.2" r="2.7"/>
<circle cx="549.6" cy="310.8" r="2.7"/>
<circle cx="549.6" cy="316.2" r="2.7"/>
<circle cx="555.7" cy="310.8" r="2.7"/>
<circle cx="555.7" cy="316.2" r="2.7"/>
<circle cx="561.8" cy="310.8" r="2.7"/>
<circle cx="561.8" cy="316.2" r="2.7"/>
<circle cx="567.9" cy="310.8" r="2.7"/>
<circle cx="567.9" cy="316.2" r="2.7"/>
<circle cx="574.0" cy="310.8" r="2.7"/>
<circle cx="574.0" cy="316.2" r="2.7"/>
<circle cx="580.1" cy="310.8" r="2.7"/>
<circle cx="580.1" cy="316.2" r="2.7"/>
<circle cx="586.2" cy="310.8" r="2.7"/>
<circle cx="586.2" cy="316.2" r="2.7"/>
<circle cx="592.3" cy="310.8" r="2.7"/>
<circle cx="592.3" cy="316.2" r="2.7"/>
<circle cx="598.4" cy="310.8" r="2.7"/>
<circle cx="598.4" cy="316.2" r="2.7"/>
<circle cx="604.5" cy="310.8" r="2.7"/>
<circle cx="604.5" cy="316.2" r="2.7"/>
<circle cx="610.6" cy="310.8" r="2.7"/>
<circle cx="610.6" cy="316.2" r="2.7"/>
<circle cx="616.7" cy="310.8" r="2.7"/>
<circle cx="616.7" cy="316.2" r="2.7"/>
<circle cx="622.8" cy="310.8" r="2.7"/>
<circle cx="148.5" cy="307.5" r="2.7"/>
<circle cx="161.0" cy="308.0" r="2.7"/>
<circle cx="69.5" cy="318.0" r="2.7"/>
<circle cx="55.1" cy="343.8" r="3.8"/>
<circle cx="67.1" cy="345.1" r="3.0"/>
<circle cx="78.9" cy="343.1" r="3.8"/>
<circle cx="93.5" cy="343.8" r="3.8"/>
<circle cx="105.3" cy="344.3" r="3.0"/>
<circle cx="112.3" cy="348.1" r="3.8"/>
<circle cx="122.4" cy="347.1" r="3.8"/>
<circle cx="127.9" cy="350.6" r="4.0"/>
<circle cx="147.5" cy="343.8" r="3.0"/>
<circle cx="157.5" cy="345.6" r="3.8"/>
<circle cx="151.2" cy="349.6" r="4.0"/>
<circle cx="163.8" cy="351.3" r="3.0"/>
<circle cx="143.4" cy="353.1" r="3.0"/>
<circle cx="181.1" cy="344.3" r="3.8"/>
<circle cx="175.6" cy="350.6" r="4.3"/>
<circle cx="194.9" cy="343.8" r="3.0"/>
<circle cx="202.7" cy="343.3" r="3.0"/>
<circle cx="213.2" cy="343.3" r="3.8"/>
<circle cx="191.1" cy="349.6" r="4.3"/>
<circle cx="207.4" cy="350.1" r="3.0"/>
<circle cx="216.2" cy="351.8" r="4.8"/>
<circle cx="199.4" cy="354.6" r="4.5"/>
<circle cx="224.5" cy="351.3" r="3.0"/>
<circle cx="47.6" cy="351.3" r="3.8"/>
<circle cx="60.6" cy="348.8" r="3.8"/>
<circle cx="73.4" cy="349.3" r="3.8"/>
<circle cx="40.0" cy="355.1" r="3.3"/>
<circle cx="47.6" cy="360.1" r="3.8"/>
<circle cx="98.3" cy="348.8" r="3.8"/>
<circle cx="89.0" cy="352.6" r="4.3"/>
<circle cx="80.2" cy="357.1" r="3.3"/>
<circle cx="112.8" cy="355.8" r="3.8"/>
<circle cx="119.1" cy="355.1" r="3.0"/>
<circle cx="94.0" cy="359.6" r="3.5"/>
<circle cx="103.3" cy="359.6" r="3.0"/>
<circle cx="131.6" cy="359.6" r="3.8"/>
<circle cx="66.4" cy="360.6" r="3.3"/>
<circle cx="141.7" cy="360.9" r="3.8"/>
<circle cx="158.0" cy="359.6" r="5.0"/>
<circle cx="169.3" cy="358.9" r="3.8"/>
<circle cx="189.9" cy="361.4" r="3.8"/>
<circle cx="204.9" cy="359.6" r="3.8"/>
<circle cx="215.2" cy="362.1" r="3.0"/>
<circle cx="223.2" cy="355.1" r="2.5"/>
<circle cx="37.5" cy="372.7" r="3.8"/>
<circle cx="56.9" cy="367.6" r="3.0"/>
<circle cx="68.9" cy="365.1" r="3.8"/>
<circle cx="76.4" cy="370.9" r="3.8"/>
<circle cx="84.5" cy="367.1" r="3.8"/>
<circle cx="96.5" cy="367.1" r="3.0"/>
<circle cx="106.5" cy="371.4" r="3.8"/>
<circle cx="116.1" cy="369.7" r="3.8"/>
<circle cx="123.4" cy="365.1" r="3.8"/>
<circle cx="126.6" cy="375.2" r="4.3"/>
<circle cx="146.2" cy="370.7" r="4.3"/>
<circle cx="153.0" cy="367.1" r="3.0"/>
<circle cx="161.8" cy="367.1" r="3.0"/>
<circle cx="158.7" cy="377.7" r="3.5"/>
<circle cx="171.8" cy="373.2" r="3.0"/>
<circle cx="181.1" cy="368.9" r="5.5"/>
<circle cx="199.4" cy="366.4" r="3.0"/>
<circle cx="203.7" cy="372.7" r="3.8"/>
<circle cx="212.5" cy="369.7" r="3.0"/>
<circle cx="220.2" cy="367.1" r="3.8"/>
<circle cx="196.9" cy="377.2" r="3.8"/>
<circle cx="212.5" cy="376.4" r="3.8"/>
<circle cx="189.4" cy="379.7" r="3.8"/>
<circle cx="222.0" cy="378.9" r="3.0"/>
<circle cx="66.4" cy="377.7" r="3.0"/>
<circle cx="49.6" cy="382.7" r="3.0"/>
<circle cx="73.9" cy="384.5" r="3.8"/>
<circle cx="89.0" cy="383.5" r="4.3"/>
<circle cx="106.0" cy="382.2" r="3.0"/>
<circle cx="112.8" cy="387.2" r="3.8"/>
<circle cx="135.4" cy="388.2" r="3.8"/>
<circle cx="145.9" cy="385.7" r="3.0"/>
<circle cx="156.2" cy="391.0" r="3.8"/>
<circle cx="165.5" cy="391.0" r="3.8"/>
<circle cx="179.8" cy="384.7" r="5.0"/>
<circle cx="207.4" cy="383.5" r="3.0"/>
<circle cx="196.9" cy="389.7" r="4.5"/>
<circle cx="211.2" cy="390.2" r="3.8"/>
<circle cx="220.0" cy="388.2" r="3.0"/>
<circle cx="67.1" cy="394.0" r="3.0"/>
<circle cx="60.6" cy="397.8" r="3.8"/>
<circle cx="73.4" cy="398.3" r="3.8"/>
<circle cx="84.5" cy="397.8" r="3.8"/>
<circle cx="98.3" cy="397.8" r="3.8"/>
<circle cx="111.6" cy="397.3" r="3.8"/>
<circle cx="122.4" cy="396.5" r="3.8"/>
<circle cx="127.9" cy="400.3" r="4.0"/>
<circle cx="134.9" cy="397.8" r="3.0"/>
<circle cx="151.2" cy="398.3" r="4.3"/>
<circle cx="142.9" cy="401.5" r="3.0"/>
<circle cx="163.8" cy="401.0" r="3.0"/>
<circle cx="149.2" cy="406.0" r="3.0"/>
<circle cx="158.0" cy="408.6" r="5.0"/>
<circle cx="182.6" cy="403.5" r="3.8"/>
<circle cx="196.9" cy="399.8" r="5.0"/>
<circle cx="207.4" cy="399.8" r="3.0"/>
<circle cx="216.2" cy="401.0" r="5.0"/>
<circle cx="226.5" cy="404.3" r="5.0"/>
<circle cx="39.5" cy="404.8" r="3.3"/>
<circle cx="47.6" cy="409.1" r="3.8"/>
<circle cx="55.1" cy="404.8" r="3.8"/>
<circle cx="66.4" cy="409.8" r="3.0"/>
<circle cx="68.9" cy="414.6" r="3.8"/>
<circle cx="56.9" cy="416.6" r="3.0"/>
<circle cx="76.4" cy="420.3" r="3.8"/>
<circle cx="84.5" cy="416.1" r="3.8"/>
<circle cx="94.0" cy="409.1" r="3.8"/>
<circle cx="96.5" cy="416.6" r="3.0"/>
<circle cx="107.8" cy="413.6" r="3.8"/>
<circle cx="119.1" cy="404.8" r="3.3"/>
<circle cx="124.1" cy="414.6" r="3.8"/>
<circle cx="116.1" cy="419.1" r="3.8"/>
<circle cx="131.6" cy="409.1" r="3.8"/>
<circle cx="146.2" cy="419.6" r="4.3"/>
<circle cx="165.5" cy="423.6" r="3.5"/>
<circle cx="158.7" cy="427.4" r="3.5"/>
<circle cx="170.5" cy="412.1" r="4.3"/>
<circle cx="181.1" cy="417.1" r="5.5"/>
<circle cx="188.9" cy="409.1" r="3.8"/>
<circle cx="196.9" cy="414.6" r="5.0"/>
<circle cx="204.9" cy="408.6" r="3.8"/>
<circle cx="215.2" cy="411.6" r="3.0"/>
<circle cx="203.7" cy="422.4" r="3.8"/>
<circle cx="212.5" cy="425.4" r="3.8"/>
<circle cx="196.9" cy="426.1" r="3.8"/>
<circle cx="221.2" cy="419.6" r="3.0"/>
<circle cx="45.8" cy="430.9" r="5.0"/>
<circle cx="66.4" cy="432.1" r="3.0"/>
<circle cx="89.5" cy="427.1" r="3.8"/>
<circle cx="104.0" cy="427.9" r="4.5"/>
<circle cx="113.6" cy="429.1" r="3.0"/>
<circle cx="130.9" cy="425.4" r="4.3"/>
<circle cx="125.4" cy="438.4" r="3.8"/>
<circle cx="133.4" cy="439.7" r="3.0"/>
<circle cx="143.7" cy="434.9" r="3.0"/>
<circle cx="153.0" cy="440.4" r="3.0"/>
<circle cx="179.3" cy="432.9" r="3.0"/>
<circle cx="173.6" cy="441.2" r="3.0"/>
<circle cx="183.8" cy="441.2" r="5.0"/>
<circle cx="207.4" cy="432.4" r="3.0"/>
<circle cx="211.2" cy="439.2" r="3.8"/>
<circle cx="224.5" cy="440.4" r="3.8"/>
<circle cx="54.3" cy="441.7" r="3.8"/>
<circle cx="74.4" cy="444.2" r="3.8"/>
<circle cx="84.5" cy="439.2" r="3.8"/>
<circle cx="103.3" cy="442.9" r="3.0"/>
<circle cx="45.1" cy="451.0" r="3.3"/>
<circle cx="91.0" cy="451.7" r="3.3"/>
<circle cx="137.9" cy="449.2" r="5.0"/>
<circle cx="153.0" cy="454.2" r="3.8"/>
<circle cx="168.8" cy="454.7" r="3.8"/>
<circle cx="189.4" cy="453.0" r="3.0"/>
<circle cx="199.4" cy="447.2" r="5.0"/>
<circle cx="210.2" cy="456.2" r="3.8"/>
<circle cx="219.5" cy="453.0" r="3.8"/>
<circle cx="119.6" cy="455.0" r="3.8"/>
<circle cx="107.3" cy="458.0" r="3.3"/>
<circle cx="127.1" cy="457.5" r="3.8"/>
<circle cx="72.7" cy="460.5" r="4.0"/>
<circle cx="79.4" cy="459.7" r="4.0"/>
<circle cx="238.1" cy="345.6" r="3.8"/>
<circle cx="245.8" cy="341.8" r="3.8"/>
<circle cx="253.9" cy="341.8" r="3.8"/>
<circle cx="260.1" cy="343.8" r="3.8"/>
<circle cx="266.4" cy="341.3" r="3.0"/>
<circle cx="276.4" cy="341.3" r="3.0"/>
<circle cx="284.5" cy="343.1" r="3.8"/>
<circle cx="292.3" cy="341.8" r="3.8"/>
<circle cx="304.6" cy="340.5" r="3.3"/>
<circle cx="314.6" cy="340.0" r="3.0"/>
<circle cx="311.1" cy="344.3" r="3.0"/>
<circle cx="317.4" cy="348.1" r="3.8"/>
<circle cx="327.9" cy="347.1" r="3.8"/>
<circle cx="336.7" cy="341.8" r="3.8"/>
<circle cx="345.5" cy="341.3" r="5.0"/>
<circle cx="358.0" cy="338.8" r="3.3"/>
<circle cx="353.7" cy="344.3" r="3.0"/>
<circle cx="340.4" cy="348.3" r="3.0"/>
<circle cx="363.0" cy="345.6" r="3.8"/>
<circle cx="373.8" cy="343.1" r="5.0"/>
<circle cx="379.8" cy="339.5" r="3.8"/>
<circle cx="391.1" cy="339.3" r="3.8"/>
<circle cx="400.2" cy="339.3" r="3.0"/>
<circle cx="413.2" cy="339.5" r="3.8"/>
<circle cx="386.4" cy="344.3" r="3.8"/>
<circle cx="407.7" cy="343.8" r="3.0"/>
<circle cx="398.2" cy="348.3" r="4.3"/>
<circle cx="417.7" cy="347.6" r="3.0"/>
<circle cx="381.1" cy="350.6" r="4.5"/>
<circle cx="369.8" cy="351.3" r="3.0"/>
<circle cx="412.7" cy="352.1" r="3.8"/>
<circle cx="232.0" cy="356.4" r="4.3"/>
<circle cx="244.3" cy="355.1" r="3.8"/>
<circle cx="253.1" cy="350.6" r="4.3"/>
<circle cx="261.4" cy="355.1" r="3.8"/>
<circle cx="265.9" cy="348.8" r="3.8"/>
<circle cx="271.9" cy="348.1" r="3.0"/>
<circle cx="278.5" cy="349.3" r="3.8"/>
<circle cx="271.9" cy="354.3" r="3.3"/>
<circle cx="279.5" cy="356.9" r="3.8"/>
<circle cx="286.0" cy="356.4" r="3.0"/>
<circle cx="294.0" cy="352.6" r="4.5"/>
<circle cx="304.1" cy="348.8" r="4.3"/>
<circle cx="299.5" cy="359.6" r="3.8"/>
<circle cx="309.1" cy="359.6" r="3.0"/>
<circle cx="318.4" cy="355.8" r="3.8"/>
<circle cx="324.6" cy="355.1" r="3.0"/>
<circle cx="253.4" cy="360.1" r="3.8"/>
<circle cx="270.9" cy="359.6" r="3.0"/>
<circle cx="273.9" cy="364.6" r="3.8"/>
<circle cx="337.2" cy="359.6" r="3.8"/>
<circle cx="347.2" cy="360.6" r="3.8"/>
<circle cx="348.5" cy="352.1" r="3.0"/>
<circle cx="354.7" cy="357.6" r="3.0"/>
<circle cx="363.8" cy="359.4" r="5.0"/>
<circle cx="374.8" cy="355.1" r="3.8"/>
<circle cx="376.8" cy="363.1" r="4.5"/>
<circle cx="387.4" cy="355.1" r="3.8"/>
<circle cx="394.4" cy="360.1" r="3.8"/>
<circle cx="404.4" cy="355.1" r="5.0"/>
<circle cx="410.7" cy="360.1" r="3.8"/>
<circle cx="418.2" cy="356.4" r="3.0"/>
<circle cx="230.0" cy="370.7" r="5.0"/>
<circle cx="240.6" cy="365.9" r="5.0"/>
<circle cx="257.1" cy="370.2" r="3.8"/>
<circle cx="262.6" cy="367.6" r="3.0"/>
<circle cx="271.4" cy="371.4" r="3.0"/>
<circle cx="281.5" cy="371.4" r="3.8"/>
<circle cx="289.5" cy="367.1" r="3.8"/>
<circle cx="329.2" cy="365.1" r="3.8"/>
<circle cx="358.8" cy="367.6" r="3.0"/>
<circle cx="366.8" cy="367.6" r="3.0"/>
<circle cx="386.4" cy="368.9" r="5.0"/>
<circle cx="404.9" cy="365.9" r="3.3"/>
<circle cx="240.6" cy="377.7" r="3.8"/>
<circle cx="263.1" cy="378.2" r="3.0"/>
<circle cx="271.4" cy="379.4" r="3.0"/>
<circle cx="276.4" cy="382.7" r="3.0"/>
<circle cx="258.9" cy="384.7" r="3.0"/>
<circle cx="235.5" cy="391.0" r="5.0"/>
<circle cx="250.8" cy="387.2" r="3.0"/>
<circle cx="263.4" cy="389.0" r="3.0"/>
<circle cx="260.1" cy="394.0" r="2.5"/>
<circle cx="271.9" cy="394.0" r="3.8"/>
<circle cx="276.9" cy="390.2" r="3.0"/>
<circle cx="284.0" cy="393.5" r="3.8"/>
<circle cx="251.4" cy="397.8" r="3.3"/>
<circle cx="244.3" cy="402.0" r="3.0"/>
<circle cx="253.4" cy="404.8" r="3.3"/>
<circle cx="265.2" cy="405.3" r="3.0"/>
<circle cx="271.9" cy="402.8" r="3.0"/>
<circle cx="279.5" cy="403.5" r="3.0"/>
<circle cx="238.8" cy="410.8" r="3.5"/>
<circle cx="245.8" cy="409.6" r="2.5"/>
<circle cx="250.8" cy="416.1" r="3.5"/>
<circle cx="272.7" cy="410.8" r="3.8"/>
<circle cx="289.0" cy="408.3" r="3.8"/>
<circle cx="272.7" cy="419.1" r="3.0"/>
<circle cx="279.7" cy="423.6" r="3.5"/>
<circle cx="292.3" cy="418.6" r="3.5"/>
<circle cx="295.3" cy="424.1" r="4.3"/>
<circle cx="305.8" cy="424.6" r="3.8"/>
<circle cx="230.0" cy="427.1" r="5.0"/>
<circle cx="245.8" cy="428.6" r="3.8"/>
<circle cx="260.1" cy="427.1" r="5.0"/>
<circle cx="297.8" cy="432.4" r="3.8"/>
<circle cx="235.0" cy="441.2" r="3.0"/>
<circle cx="248.8" cy="444.2" r="5.0"/>
<circle cx="260.9" cy="443.4" r="3.8"/>
<circle cx="276.9" cy="437.4" r="3.8"/>
<circle cx="286.0" cy="436.2" r="3.8"/>
<circle cx="297.0" cy="440.4" r="3.0"/>
<circle cx="271.4" cy="449.2" r="3.3"/>
<circle cx="230.5" cy="451.7" r="3.0"/>
<circle cx="286.0" cy="454.7" r="5.0"/>
<circle cx="297.8" cy="450.5" r="3.0"/>
<circle cx="308.6" cy="444.7" r="3.8"/>
<circle cx="316.1" cy="436.7" r="3.8"/>
<circle cx="322.9" cy="438.7" r="3.0"/>
<circle cx="332.2" cy="439.9" r="4.3"/>
<circle cx="339.7" cy="437.4" r="3.0"/>
<circle cx="323.6" cy="448.7" r="3.8"/>
<circle cx="313.3" cy="454.2" r="3.8"/>
<circle cx="346.2" cy="443.7" r="3.0"/>
<circle cx="354.7" cy="444.7" r="4.5"/>
<circle cx="341.2" cy="451.7" r="3.8"/>
<circle cx="349.7" cy="451.7" r="3.0"/>
<circle cx="357.3" cy="454.7" r="4.5"/>
<circle cx="365.5" cy="451.2" r="3.0"/>
<circle cx="369.3" cy="456.2" r="3.0"/>
<circle cx="376.8" cy="454.2" r="4.3"/>
<circle cx="384.9" cy="459.2" r="3.0"/>
<circle cx="398.7" cy="453.0" r="4.3"/>
<circle cx="391.9" cy="458.0" r="3.0"/>
<circle cx="325.4" cy="458.0" r="3.3"/>
<circle cx="410.7" cy="460.0" r="3.0"/>
<circle cx="418.7" cy="455.5" r="3.0"/>
<circle cx="299.3" cy="343.3" r="3.5"/>
<circle cx="401.7" cy="344.1" r="3.3"/>
<circle cx="426.8" cy="338.8" r="3.8"/>
<circle cx="435.6" cy="338.8" r="3.0"/>
<circle cx="445.6" cy="338.8" r="3.3"/>
<circle cx="457.6" cy="338.0" r="3.3"/>
<circle cx="466.9" cy="338.3" r="3.3"/>
<circle cx="421.3" cy="343.8" r="3.0"/>
<circle cx="434.6" cy="343.8" r="3.3"/>
<circle cx="452.6" cy="343.8" r="3.3"/>
<circle cx="456.4" cy="348.8" r="3.8"/>
<circle cx="463.9" cy="345.1" r="3.8"/>
<circle cx="470.2" cy="343.8" r="3.0"/>
<circle cx="480.2" cy="339.5" r="3.0"/>
<circle cx="487.8" cy="340.8" r="3.8"/>
<circle cx="494.0" cy="338.0" r="5.0"/>
<circle cx="500.8" cy="339.5" r="3.0"/>
<circle cx="505.3" cy="337.5" r="3.0"/>
<circle cx="509.8" cy="340.0" r="3.0"/>
<circle cx="478.5" cy="346.3" r="3.0"/>
<circle cx="485.8" cy="343.8" r="3.0"/>
<circle cx="504.8" cy="345.6" r="3.8"/>
<circle cx="512.4" cy="344.3" r="4.3"/>
<circle cx="515.4" cy="338.3" r="3.0"/>
<circle cx="522.9" cy="339.5" r="4.5"/>
<circle cx="530.4" cy="341.3" r="3.8"/>
<circle cx="538.5" cy="338.3" r="3.8"/>
<circle cx="544.2" cy="340.5" r="3.3"/>
<circle cx="552.5" cy="337.0" r="3.0"/>
<circle cx="558.0" cy="340.5" r="4.5"/>
<circle cx="566.8" cy="339.3" r="3.8"/>
<circle cx="576.9" cy="340.8" r="3.8"/>
<circle cx="422.0" cy="351.8" r="5.0"/>
<circle cx="441.3" cy="353.1" r="3.8"/>
<circle cx="445.1" cy="355.1" r="3.0"/>
<circle cx="454.4" cy="353.8" r="3.0"/>
<circle cx="470.2" cy="353.3" r="3.0"/>
<circle cx="483.2" cy="350.1" r="3.0"/>
<circle cx="500.8" cy="353.8" r="3.0"/>
<circle cx="507.3" cy="353.1" r="3.0"/>
<circle cx="539.7" cy="350.6" r="4.3"/>
<circle cx="548.7" cy="348.8" r="3.8"/>
<circle cx="558.0" cy="351.3" r="3.8"/>
<circle cx="565.1" cy="348.8" r="4.5"/>
<circle cx="483.2" cy="357.1" r="3.0"/>
<circle cx="489.5" cy="357.6" r="3.0"/>
<circle cx="495.3" cy="355.8" r="3.0"/>
<circle cx="480.2" cy="360.6" r="3.0"/>
<circle cx="465.9" cy="359.6" r="3.0"/>
<circle cx="432.5" cy="361.4" r="3.8"/>
<circle cx="443.3" cy="358.9" r="3.8"/>
<circle cx="420.0" cy="362.1" r="3.0"/>
<circle cx="450.1" cy="363.9" r="5.5"/>
<circle cx="426.8" cy="367.6" r="3.8"/>
<circle cx="440.1" cy="367.6" r="3.8"/>
<circle cx="461.4" cy="366.4" r="4.3"/>
<circle cx="470.2" cy="363.9" r="3.0"/>
<circle cx="479.0" cy="368.9" r="3.8"/>
<circle cx="487.3" cy="370.2" r="3.0"/>
<circle cx="467.2" cy="368.9" r="2.5"/>
<circle cx="451.4" cy="373.2" r="3.3"/>
<circle cx="458.1" cy="372.2" r="3.0"/>
<circle cx="470.9" cy="374.4" r="3.0"/>
<circle cx="504.1" cy="370.9" r="3.8"/>
<circle cx="440.6" cy="378.2" r="3.8"/>
<circle cx="447.1" cy="382.7" r="3.0"/>
<circle cx="460.7" cy="379.4" r="3.0"/>
<circle cx="471.4" cy="379.7" r="3.0"/>
<circle cx="479.0" cy="377.2" r="3.0"/>
<circle cx="489.0" cy="377.7" r="3.8"/>
<circle cx="483.5" cy="381.9" r="3.3"/>
<circle cx="506.6" cy="382.7" r="3.0"/>
<circle cx="467.7" cy="385.7" r="3.8"/>
<circle cx="479.5" cy="385.7" r="3.8"/>
<circle cx="488.3" cy="385.7" r="2.5"/>
<circle cx="484.5" cy="390.2" r="3.3"/>
<circle cx="439.6" cy="392.0" r="3.0"/>
<circle cx="454.6" cy="392.0" r="3.8"/>
<circle cx="463.4" cy="393.2" r="3.0"/>
<circle cx="471.4" cy="394.5" r="3.3"/>
<circle cx="484.7" cy="396.5" r="3.0"/>
<circle cx="500.3" cy="394.5" r="3.3"/>
<circle cx="442.1" cy="402.0" r="3.3"/>
<circle cx="463.2" cy="402.0" r="3.0"/>
<circle cx="471.4" cy="403.3" r="3.3"/>
<circle cx="482.7" cy="404.5" r="3.0"/>
<circle cx="489.0" cy="403.3" r="3.0"/>
<circle cx="495.8" cy="407.8" r="3.3"/>
<circle cx="450.1" cy="407.8" r="2.5"/>
<circle cx="458.4" cy="408.6" r="3.0"/>
<circle cx="463.4" cy="412.3" r="3.0"/>
<circle cx="443.1" cy="414.8" r="3.8"/>
<circle cx="460.2" cy="417.3" r="3.0"/>
<circle cx="471.9" cy="417.1" r="3.8"/>
<circle cx="481.5" cy="414.8" r="3.0"/>
<circle cx="451.4" cy="420.3" r="3.0"/>
<circle cx="463.4" cy="422.9" r="3.0"/>
<circle cx="476.5" cy="421.1" r="3.0"/>
<circle cx="485.8" cy="423.4" r="3.3"/>
<circle cx="471.4" cy="426.1" r="3.3"/>
<circle cx="442.6" cy="427.9" r="3.3"/>
<circle cx="463.9" cy="428.6" r="3.0"/>
<circle cx="510.3" cy="419.8" r="3.0"/>
<circle cx="500.8" cy="427.4" r="3.8"/>
<circle cx="498.3" cy="433.6" r="3.3"/>
<circle cx="507.1" cy="430.9" r="3.0"/>
<circle cx="518.6" cy="430.9" r="4.3"/>
<circle cx="529.2" cy="427.4" r="3.0"/>
<circle cx="523.4" cy="434.7" r="3.0"/>
<circle cx="532.4" cy="436.2" r="3.3"/>
<circle cx="460.7" cy="433.6" r="4.3"/>
<circle cx="472.7" cy="433.6" r="3.8"/>
<circle cx="477.2" cy="438.4" r="3.3"/>
<circle cx="450.6" cy="439.2" r="3.0"/>
<circle cx="435.8" cy="439.2" r="5.5"/>
<circle cx="472.2" cy="442.9" r="3.0"/>
<circle cx="488.3" cy="442.2" r="3.3"/>
<circle cx="500.8" cy="441.2" r="3.0"/>
<circle cx="507.1" cy="439.2" r="3.0"/>
<circle cx="518.4" cy="439.7" r="3.0"/>
<circle cx="507.8" cy="447.2" r="4.3"/>
<circle cx="519.6" cy="447.2" r="4.3"/>
<circle cx="524.2" cy="451.7" r="3.3"/>
<circle cx="497.3" cy="452.5" r="3.3"/>
<circle cx="519.1" cy="456.2" r="3.0"/>
<circle cx="435.8" cy="453.7" r="5.5"/>
<circle cx="424.5" cy="454.7" r="3.0"/>
<circle cx="456.4" cy="454.7" r="3.8"/>
<circle cx="465.2" cy="453.0" r="3.3"/>
<circle cx="449.6" cy="458.0" r="3.0"/>
<circle cx="466.4" cy="458.5" r="3.0"/>
<circle cx="479.5" cy="456.2" r="3.3"/>
<circle cx="491.5" cy="460.0" r="3.0"/>
<circle cx="90.2" cy="463.3" r="3.3"/>
<circle cx="141.7" cy="462.8" r="3.8"/>
<circle cx="162.3" cy="467.6" r="4.5"/>
<circle cx="181.8" cy="463.3" r="3.8"/>
<circle cx="196.9" cy="463.8" r="5.0"/>
<circle cx="215.2" cy="467.1" r="3.8"/>
<circle cx="224.5" cy="464.5" r="3.0"/>
<circle cx="67.1" cy="469.1" r="3.0"/>
<circle cx="60.6" cy="473.8" r="3.8"/>
<circle cx="47.6" cy="475.8" r="3.8"/>
<circle cx="39.5" cy="479.6" r="3.3"/>
<circle cx="55.1" cy="480.4" r="3.8"/>
<circle cx="47.1" cy="482.1" r="3.0"/>
<circle cx="66.4" cy="482.9" r="2.5"/>
<circle cx="112.1" cy="472.6" r="3.8"/>
<circle cx="122.9" cy="471.3" r="3.8"/>
<circle cx="119.1" cy="480.4" r="3.3"/>
<circle cx="142.9" cy="475.8" r="3.3"/>
<circle cx="149.2" cy="481.4" r="3.0"/>
<circle cx="163.5" cy="475.8" r="3.0"/>
<circle cx="175.6" cy="475.1" r="4.3"/>
<circle cx="190.9" cy="474.6" r="4.5"/>
<circle cx="207.4" cy="475.1" r="3.0"/>
<circle cx="220.0" cy="478.3" r="3.0"/>
<circle cx="189.4" cy="482.9" r="3.0"/>
<circle cx="204.9" cy="482.1" r="3.0"/>
<circle cx="164.3" cy="483.4" r="2.0"/>
<circle cx="245.1" cy="462.0" r="3.0"/>
<circle cx="260.1" cy="462.0" r="5.0"/>
<circle cx="267.7" cy="462.0" r="3.8"/>
<circle cx="231.3" cy="469.6" r="3.8"/>
<circle cx="250.1" cy="467.6" r="3.3"/>
<circle cx="263.9" cy="473.3" r="4.3"/>
<circle cx="275.2" cy="472.1" r="3.8"/>
<circle cx="255.1" cy="475.8" r="3.0"/>
<circle cx="288.2" cy="474.1" r="3.8"/>
<circle cx="295.8" cy="464.5" r="5.0"/>
<circle cx="309.1" cy="465.8" r="3.8"/>
<circle cx="319.6" cy="466.6" r="5.0"/>
<circle cx="310.3" cy="478.3" r="3.0"/>
<circle cx="339.2" cy="463.8" r="5.0"/>
<circle cx="349.7" cy="461.5" r="3.0"/>
<circle cx="357.3" cy="465.0" r="3.0"/>
<circle cx="350.5" cy="474.1" r="3.8"/>
<circle cx="339.7" cy="478.3" r="5.0"/>
<circle cx="326.6" cy="481.4" r="3.8"/>
<circle cx="317.9" cy="482.9" r="3.0"/>
<circle cx="293.3" cy="481.6" r="3.0"/>
<circle cx="242.1" cy="481.4" r="3.3"/>
<circle cx="230.0" cy="482.1" r="3.0"/>
<circle cx="364.8" cy="477.8" r="3.8"/>
<circle cx="368.1" cy="464.0" r="4.3"/>
<circle cx="375.1" cy="472.8" r="5.0"/>
<circle cx="385.6" cy="468.3" r="3.8"/>
<circle cx="396.9" cy="467.8" r="5.0"/>
<circle cx="400.7" cy="474.1" r="3.8"/>
<circle cx="393.1" cy="477.1" r="3.0"/>
<circle cx="406.2" cy="466.3" r="3.0"/>
<circle cx="413.2" cy="469.6" r="5.0"/>
<circle cx="383.6" cy="479.6" r="4.3"/>
<circle cx="408.7" cy="480.4" r="2.5"/>
<circle cx="475.7" cy="461.5" r="3.0"/>
<circle cx="460.2" cy="465.0" r="3.3"/>
<circle cx="481.5" cy="466.3" r="3.8"/>
<circle cx="432.0" cy="468.3" r="5.0"/>
<circle cx="464.4" cy="472.1" r="3.8"/>
<circle cx="444.3" cy="477.1" r="3.8"/>
<circle cx="487.8" cy="472.8" r="3.3"/>
<circle cx="496.5" cy="472.1" r="3.8"/>
<circle cx="511.6" cy="462.0" r="3.0"/>
<circle cx="512.9" cy="470.8" r="3.8"/>
<circle cx="526.7" cy="468.8" r="3.0"/>
<circle cx="522.4" cy="475.1" r="3.3"/>
<circle cx="507.1" cy="478.3" r="3.0"/>
<circle cx="528.4" cy="479.6" r="3.8"/>
<circle cx="519.9" cy="482.1" r="2.5"/>
<circle cx="510.3" cy="483.4" r="2.5"/>
<circle cx="428.8" cy="483.4" r="2.5"/>
</g>
<g fill="none" stroke="#222" stroke-width="1.00" stroke-linejoin="miter">
<path d="M385.2 51.4 L406.5 38.1 L412.8 46.4 L390.9 60.2 Z M393.4 63.9 L402.2 59.4 L404.7 63.9 L395.9 68.4 Z M400.2 75.7 L432.8 55.1 L439.1 63.9 L406.0 84.0 Z M408.2 87.3 L416.5 83.2 L419.0 87.8 L410.8 92.3 Z M415.3 99.8 L447.9 79.0 L453.4 87.8 L420.8 107.8 Z M450.4 37.1 L473.5 74.7 L482.5 69.4 L462.2 36.3 M457.9 72.7 L462.5 70.2 L467.2 79.0 L462.5 81.5 Z"/>
</g>
</g></svg></body></html>
